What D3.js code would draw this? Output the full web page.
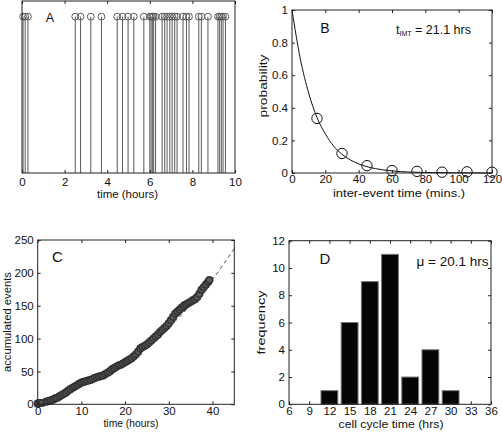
<!DOCTYPE html>
<html><head><meta charset="utf-8">
<script src="https://cdn.jsdelivr.net/npm/d3@7"></script>
<style>body{margin:0;background:#fff}svg{display:block}text{font-family:"Liberation Sans",Arial,sans-serif}</style>
</head><body><svg id="c" width="502" height="433"></svg>
<script>
// Panel A: event times (hours)
const eventTimes = [0.05,0.15,0.28,2.5,2.75,3.23,3.73,4.47,4.72,4.98,5.25,5.72,6.0,6.06,6.12,6.18,6.27,6.58,6.7,6.81,6.94,7.05,7.17,7.28,7.56,7.72,7.84,8.3,8.42,8.73,9.2,9.28,9.36,9.44,9.55];
const ticksA = [0,2,4,6,8,10];
// Panel B
const intervalMins = [15,30,45,60,75,90,105,120];
const intervalProb = [0.335,0.12,0.045,0.015,0.01,0.005,0.007,0.005];
const fitMins = [0,5,10,15,20,25,30,40,50,60,70,80,100,120];
const fitProb = [1,0.70,0.49,0.34,0.24,0.165,0.115,0.056,0.027,0.013,0.006,0.003,0.001,0];
const ticksBx = [0,20,40,60,80,100,120];
const ticksBy = [0,0.2,0.4,0.6,0.8,1];
// Panel C
const accTime = [0,0.3,1,2,2.5,3,3.5,4,4.5,5,5.5,6,6.5,7,7.5,8,8.5,9,9.5,10,10.5,11,11.5,12,12.5,13,13.5,14,14.5,15,15.5,16,16.5,17,17.5,18,18.5,19,19.5,20,20.5,21,21.5,22,22.5,23,23.5,24,24.5,25,25.5,26,26.5,27,27.5,28,28.5,29,29.5,30,30.5,31,31.5,32,32.5,33,33.5,34,34.5,35,35.5,36,36.5,37,37.5,38,38.5,39,39.3];
const accEvents = [1,2,2,4,5,6,7,9,10,12,14,16,18,21,23,25,27,29,31,33,34,35,36,37,38,40,41,42,43,44,46,48,50,53,55,57,59,60,62,64,66,68,70,73,76,80,85,87,89,91,94,97,100,103,106,110,113,116,119,123,128,133,138,141,144,147,150,152,154,156,158,160,163,168,174,178,182,186,189];
const trendTime = [0,5,10,15,20,25,30,35,40,45];
const trendEvents = [0,12,27,44,64,88,117,151,190,237];
const ticksCx = [0,10,20,30,40];
const ticksCy = [0,50,100,150,200,250];
// Panel D
const cycleBins = [12,15,18,21,24,27,30];
const cycleFreq = [1,6,9,11,2,4,1];
const ticksDx = [6,9,12,15,18,21,24,27,30,33,36];
const ticksDy = [0,2,4,6,8,10,12];

const svg = d3.select("#c");

function frame(g, x, y, xt, yt, showY, xpad){
  const [x0,x1]=x.range(), [y0,y1]=y.range();
  g.append("g").attr("transform",`translate(0,${y0})`)
    .call(d3.axisBottom(x).tickValues(xt).tickSize(-3).tickSizeOuter(0).tickPadding(xpad).tickFormat(d3.format("")));
  g.append("g").attr("transform",`translate(0,${y1})`)
    .call(d3.axisTop(x).tickValues(xt).tickSize(-3).tickSizeOuter(0).tickFormat(""));
  if(showY){
    g.append("g").attr("transform",`translate(${x0},0)`)
      .call(d3.axisLeft(y).tickValues(yt).tickSize(-3).tickSizeOuter(0).tickPadding(4).tickFormat(d3.format("")));
    g.append("g").attr("transform",`translate(${x1},0)`)
      .call(d3.axisRight(y).tickValues(yt).tickSize(-3).tickSizeOuter(0).tickFormat(""));
  }
  g.selectAll(".domain").remove();
  g.selectAll(".tick line").attr("stroke","#222");
  g.selectAll(".tick text").attr("font-size",11.5).attr("fill","#111").attr("font-family","Liberation Sans, Arial, sans-serif");
  g.append("rect").attr("x",x0).attr("y",y1).attr("width",x1-x0).attr("height",y0-y1)
    .attr("fill","none").attr("stroke","#222").attr("stroke-width",1);
}
function label(g,txt,x,y,rot,size,len){
  const t=g.append("text").attr("x",x).attr("y",y).attr("text-anchor","middle").attr("font-size",size).attr("fill","#111").text(txt);
  if(len) t.attr("textLength",len).attr("lengthAdjust","spacingAndGlyphs");
  if(rot) t.attr("transform",`rotate(-90,${x},${y})`);
  return t;
}

// ---- Panel A
{
  const g=svg.append("g");
  const x=d3.scaleLinear().domain([0,10]).range([22,235]);
  const y=d3.scaleLinear().domain([0,1.1]).range([173,1]);
  g.selectAll("line.stem").data(eventTimes).join("line").attr("class","stem")
    .attr("x1",d=>x(d)).attr("x2",d=>x(d)).attr("y1",y(0)).attr("y2",y(1))
    .attr("stroke","#5a5a5a").attr("stroke-width",1);
  g.selectAll("circle").data(eventTimes).join("circle")
    .attr("cx",d=>x(d)).attr("cy",y(1)).attr("r",3.4)
    .attr("fill","none").attr("stroke","#5a5a5a").attr("stroke-width",1);
  frame(g,x,y,ticksA,[],false,5);
  label(g,"A",50,21.7,false,12.5);
  label(g,"time (hours)",127.5,197.5,false,11.5,61);
}
// ---- Panel B
{
  const g=svg.append("g");
  const x=d3.scaleLinear().domain([0,120]).range([292,492]);
  const y=d3.scaleLinear().domain([0,1]).range([173,10]);
  g.append("path").datum(fitMins.map((m,i)=>[m,fitProb[i]]))
    .attr("d",d3.line().x(d=>x(d[0])).y(d=>y(d[1])).curve(d3.curveMonotoneX))
    .attr("fill","none").attr("stroke","#111").attr("stroke-width",1);
  g.selectAll("circle").data(intervalMins.map((m,i)=>[m,intervalProb[i]])).join("circle")
    .attr("cx",d=>x(d[0])).attr("cy",d=>y(d[1])).attr("r",5.2)
    .attr("fill","none").attr("stroke","#111").attr("stroke-width",1);
  frame(g,x,y,ticksBx,ticksBy,true,2);
  label(g,"B",325,33.3,false,14);
  const t=g.append("text").attr("x",396).attr("y",34).attr("font-size",12.5).attr("fill","#111").attr("font-family","Open Sans, sans-serif");
  t.append("tspan").text("t");
  t.append("tspan").attr("font-size",7).attr("dy",2).text("IMT");
  t.append("tspan").attr("dy",-2).text(" = 21.1 hrs");
  label(g,"probability",266.5,86,true,11.5,63);
  label(g,"inter-event time (mins.)",399,197,false,11.5,132);
}
// ---- Panel C
{
  const g=svg.append("g");
  const x=d3.scaleLinear().domain([0,45]).range([37.7,234.3]);
  const y=d3.scaleLinear().domain([0,250]).range([404.3,240]);
  g.append("path").datum(trendTime.map((t,i)=>[t,trendEvents[i]]))
    .attr("d",d3.line().x(d=>x(d[0])).y(d=>y(d[1])).curve(d3.curveMonotoneX))
    .attr("fill","none").attr("stroke","#555").attr("stroke-width",1).attr("stroke-dasharray","4,3");
  g.selectAll("circle").data(accTime.map((t,i)=>[t,accEvents[i]])).join("circle")
    .attr("cx",d=>x(d[0])).attr("cy",d=>y(d[1])).attr("r",3.3)
    .attr("fill","#5a5a5a").attr("stroke","#333").attr("stroke-width",1.6);
  frame(g,x,y,ticksCx,ticksCy,true,2.5);
  label(g,"C",57.5,261.5,false,15);
  label(g,"accumulated events",11,322,true,11.5,100);
  label(g,"time (hours)",131,426.5,false,10.5,55);
}
// ---- Panel D
{
  const g=svg.append("g");
  const x=d3.scaleLinear().domain([6,36]).range([289,491]);
  const y=d3.scaleLinear().domain([0,12]).range([404.3,240.7]);
  g.selectAll("rect.bar").data(cycleBins.map((b,i)=>[b,cycleFreq[i]])).join("rect").attr("class","bar")
    .attr("x",d=>x(d[0]-1.25)).attr("width",x(2.5)-x(0))
    .attr("y",d=>y(d[1])).attr("height",d=>y(0)-y(d[1]))
    .attr("fill","#050505").attr("stroke","#777").attr("stroke-width",1);
  frame(g,x,y,ticksDx,ticksDy,true,2.5);
  label(g,"D",325,264,false,15);
  label(g,"μ = 20.1 hrs",452.5,266,false,13,72);
  label(g,"frequency",264.5,322.5,true,11.5,64);
  label(g,"cell cycle time (hrs)",391,427.5,false,11,105);
}
</script></body></html>
